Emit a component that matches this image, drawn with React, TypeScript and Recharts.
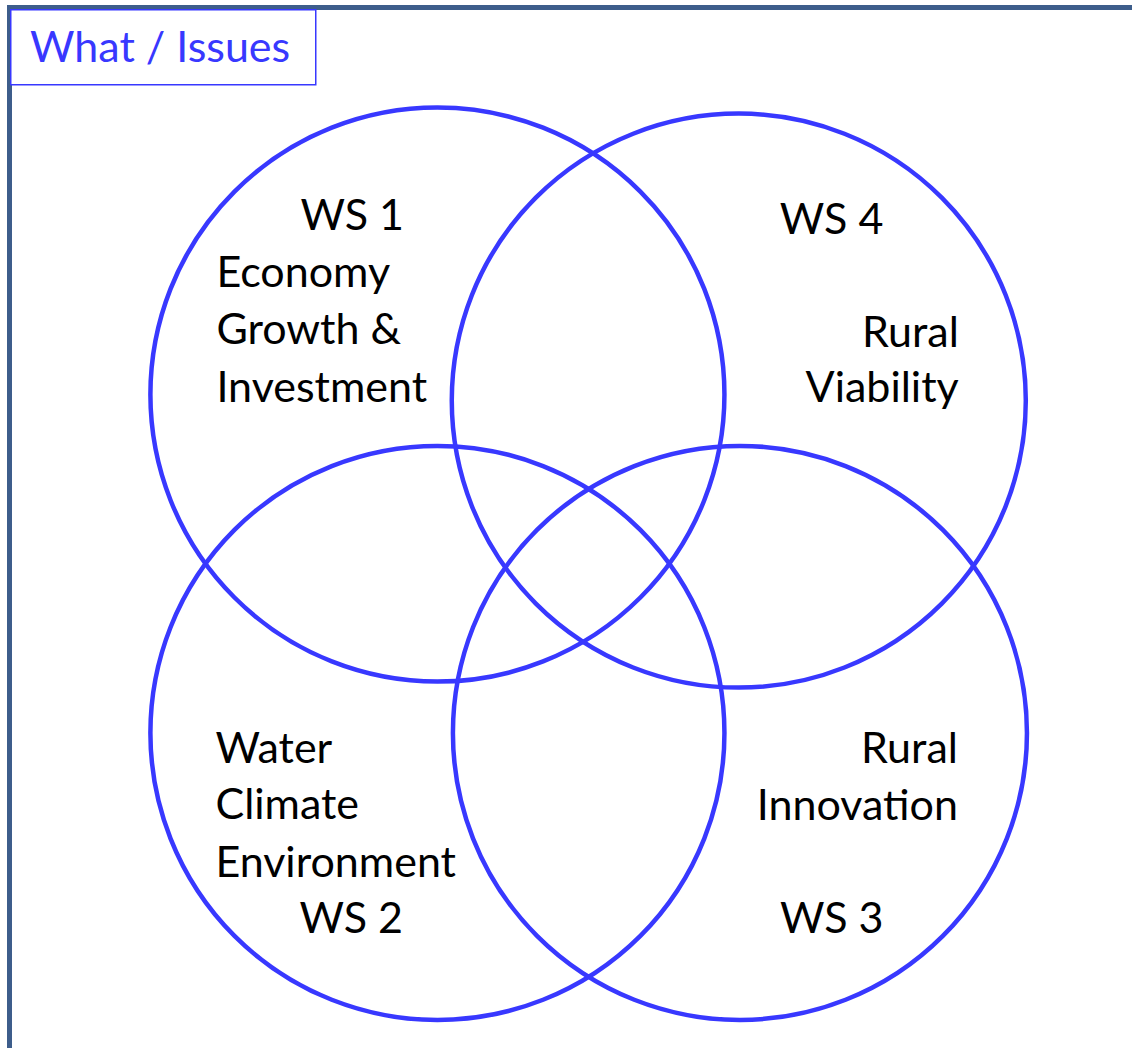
import { ScatterChart, Scatter, XAxis, YAxis } from 'recharts';

const W = 1132;
const H = 1048;

// data units: one unit = one circle radius
const X_MIN = -1.524;
const X_MAX = 2.42;
const Y_MIN = -1.098;
const Y_MAX = 2.554;
const PX_PER_UNIT = W / (X_MAX - X_MIN);

const workstreams = ['WS 1', 'WS 4', 'WS 2', 'WS 3'];
const centerX = [0, 1.05, 0, 1.054];
const centerY = [1.179, 1.158, 0, 0];
const radius = [1, 1, 1, 1];
const topics = [
  ['Economy', 'Growth &', 'Investment'],
  ['Rural', 'Viability'],
  ['Water', 'Climate', 'Environment'],
  ['Rural', 'Innovation'],
];

const data = workstreams.map((ws, i) => ({ ws, x: centerX[i], y: centerY[i], r: radius[i], topics: topics[i] }));

// label layout, pixel offsets from the circle centre
type Line = { dx: number; dy: number; anchor: 'start' | 'end' };
const wsLayout: Line[] = [
  { dx: -137, dy: -165, anchor: 'start' },
  { dx: 41, dy: -167, anchor: 'start' },
  { dx: -138, dy: 200, anchor: 'start' },
  { dx: 40, dy: 200, anchor: 'start' },
];
const topicLayout: Line[][] = [
  [{ dx: -221, dy: -108, anchor: 'start' }, { dx: -221, dy: -51, anchor: 'start' }, { dx: -221, dy: 7, anchor: 'start' }],
  [{ dx: 220, dy: -54, anchor: 'end' }, { dx: 220, dy: 1, anchor: 'end' }],
  [{ dx: -222, dy: 30, anchor: 'start' }, { dx: -222, dy: 86, anchor: 'start' }, { dx: -222, dy: 144, anchor: 'start' }],
  [{ dx: 218, dy: 30, anchor: 'end' }, { dx: 218, dy: 87, anchor: 'end' }],
];

const BLUE = '#3838ff';
const FRAME = '#3d5d8b';
const FONT = 'Lato, "Open Sans", sans-serif';
const FS = 43;

const CircleShape = (props: any) => {
  const { cx, cy, payload, index } = props;
  const i = index ?? workstreams.indexOf(payload.ws);
  const r = payload.r * PX_PER_UNIT;
  const ws = wsLayout[i];
  return (
    <g>
      <circle cx={cx} cy={cy} r={r} fill="none" stroke={BLUE} strokeWidth={4.5} />
      <text x={cx + ws.dx} y={cy + ws.dy} textAnchor={ws.anchor} fontFamily={FONT} fontSize={FS} fill="#000">
        {payload.ws}
      </text>
      {payload.topics.map((t: string, j: number) => {
        const l = topicLayout[i][j];
        return (
          <text key={j} x={cx + l.dx} y={cy + l.dy} textAnchor={l.anchor} fontFamily={FONT} fontSize={FS} fill="#000">
            {t}
          </text>
        );
      })}
    </g>
  );
};

export default function App() {
  return (
    <div style={{ position: 'absolute', left: 0, top: 0, width: W, height: H, background: '#fff', overflow: 'hidden' }}>
      <svg width={W} height={H} style={{ position: 'absolute', left: 0, top: 0 }}>
        <rect x={7} y={5} width={W} height={5} fill={FRAME} />
        <rect x={7} y={5} width={5} height={H} fill={FRAME} />
        <rect x={10.75} y={9.75} width={305} height={75} fill="#fff" stroke={BLUE} strokeWidth={1.5} />
        <text x={30} y={62} fontFamily={FONT} fontSize={FS} fill={BLUE}>What / Issues</text>
      </svg>
      <div style={{ position: 'absolute', left: 0, top: 0 }}>
        <ScatterChart width={W} height={H} margin={{ top: 0, right: 0, bottom: 0, left: 0 }}>
          <XAxis type="number" dataKey="x" domain={[X_MIN, X_MAX]} hide allowDataOverflow />
          <YAxis type="number" dataKey="y" domain={[Y_MIN, Y_MAX]} hide allowDataOverflow />
          <Scatter data={data} shape={CircleShape} isAnimationActive={false} />
        </ScatterChart>
      </div>
    </div>
  );
}
